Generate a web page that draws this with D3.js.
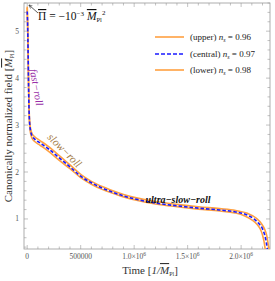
<!DOCTYPE html>
<html><head><meta charset="utf-8">
<script src="https://cdn.jsdelivr.net/npm/d3@7"></script>
<style>body{margin:0;background:#fff}svg{display:block}text{font-family:"Liberation Serif","Times New Roman",serif}</style>
</head><body>
<script>
const timeCentral = [0,4000,8000,12000,16000,20000,25000,32000,45000,70000,120000,200000,300000,400000,500000,600000,700000,800000,900000,1000000,1200000,1400000,1600000,1800000,1950000,2050000,2120000,2170000,2200000,2220000,2235000,2245000];
const fieldCentral = [5.42,5.13,4.6,3.96,3.43,3.15,2.98,2.87,2.77,2.70,2.62,2.49,2.30,2.11,1.91,1.77,1.66,1.57,1.49,1.43,1.34,1.28,1.23,1.19,1.15,1.09,1.0,0.89,0.79,0.66,0.51,0.36];
const timeUpper = [0,4000,8000,12000,16000,20000,25000,32000,45000,70000,120000,200000,300000,400000,500000,600000,700000,800000,900000,1000000,1200000,1400000,1600000,1800000,1950000,2060000,2140000,2190000,2220000,2240000,2252000,2260000];
const fieldUpper = [5.52,5.18,4.66,4.02,3.49,3.20,3.03,2.92,2.82,2.75,2.67,2.54,2.35,2.15,1.95,1.80,1.69,1.60,1.52,1.46,1.37,1.31,1.26,1.22,1.18,1.12,1.02,0.90,0.78,0.64,0.48,0.36];
const timeLower = [0,4000,8000,12000,16000,20000,25000,32000,45000,70000,120000,200000,300000,400000,500000,600000,700000,800000,900000,1000000,1200000,1400000,1600000,1800000,1940000,2030000,2100000,2150000,2180000,2200000,2215000,2225000];
const fieldLower = [5.50,5.08,4.55,3.90,3.38,3.10,2.93,2.82,2.72,2.65,2.57,2.44,2.25,2.07,1.88,1.74,1.63,1.55,1.47,1.41,1.32,1.26,1.21,1.17,1.13,1.07,0.98,0.88,0.78,0.66,0.51,0.36];
const legendLabels = ["(upper) ", "(central) ", "(lower) "];
const legendValues = ["0.96","0.97","0.98"];
const xTickValues = [0,500000,1000000,1500000,2000000];
const xTickLabels = ["0","500000","1.0×10","1.5×10","2.0×10"];
const yTickValues = [1,2,3,4,5];

const W=275,H=281;
const svg=d3.select("body").append("svg").attr("width",W).attr("height",H);
const x=d3.scaleLinear().domain([-30000,2270000]).range([24,270]);
const y=d3.scaleLinear().domain([0.36,5.6]).range([249,3]);
const frameCol="#999";

svg.append("rect").attr("x",24).attr("y",3).attr("width",246).attr("height",246).attr("fill","none").attr("stroke",frameCol).attr("stroke-width",0.8);
const xMinor=d3.range(0,2270001,100000);
xMinor.forEach(v=>{
  const major = v%500000===0;
  const len = major?4:2.5;
  svg.append("line").attr("x1",x(v)).attr("x2",x(v)).attr("y1",249).attr("y2",249-len).attr("stroke",frameCol).attr("stroke-width",0.6);
  svg.append("line").attr("x1",x(v)).attr("x2",x(v)).attr("y1",3).attr("y2",3+len).attr("stroke",frameCol).attr("stroke-width",0.6);
});
const yMinor=d3.range(0.4,5.61,0.2);
yMinor.forEach(v=>{
  const major=Math.abs(v-Math.round(v))<1e-6;
  const len=major?4:2.5;
  svg.append("line").attr("x1",24).attr("x2",24+len).attr("y1",y(v)).attr("y2",y(v)).attr("stroke",frameCol).attr("stroke-width",0.6);
  svg.append("line").attr("x1",270).attr("x2",270-len).attr("y1",y(v)).attr("y2",y(v)).attr("stroke",frameCol).attr("stroke-width",0.6);
});
xTickValues.forEach((v,i)=>{
  const t=svg.append("text").attr("x",x(v)).attr("y",259).attr("text-anchor","middle").attr("font-size",7.5).attr("fill","#555");
  t.append("tspan").text(xTickLabels[i]);
  if(i>=2) t.append("tspan").attr("dy",-3).attr("font-size",5.5).text("6");
});
yTickValues.forEach(v=>{
  svg.append("text").attr("x",19).attr("y",y(v)+2.5).attr("text-anchor","end").attr("font-size",7.5).attr("fill","#555").text(v);
});

const xl=svg.append("text").attr("x",150).attr("y",274).attr("text-anchor","middle").attr("font-size",11).attr("fill","#333");
xl.append("tspan").text("Time [");
xl.append("tspan").attr("font-style","italic").text("1/");
xl.append("tspan").attr("font-style","italic").attr("text-decoration","overline").text("M");
xl.append("tspan").attr("font-size",6).attr("dy",2).text("Pl");
xl.append("tspan").attr("dy",-2).text("]");
const yl=svg.append("text").attr("transform","translate(12,126) rotate(-90)").attr("text-anchor","middle").attr("font-size",11).attr("fill","#333");
yl.append("tspan").text("Canonically normalized field [");
yl.append("tspan").attr("font-style","italic").attr("text-decoration","overline").text("M");
yl.append("tspan").attr("font-size",6).attr("dy",2).text("Pl");
yl.append("tspan").attr("dy",-2).text("]");

const line=d3.line().x(d=>x(d[0])).y(d=>y(d[1])).curve(d3.curveMonotoneX);
const orange="#FFA040";
const g=svg.append("g");
g.append("path").datum(d3.zip(timeUpper,fieldUpper)).attr("d",line).attr("fill","none").attr("stroke",orange).attr("stroke-width",1.6);
g.append("path").datum(d3.zip(timeLower,fieldLower)).attr("d",line).attr("fill","none").attr("stroke",orange).attr("stroke-width",1.6);
g.append("path").datum(d3.zip(timeCentral,fieldCentral)).attr("d",line).attr("fill","none").attr("stroke","#1a1aff").attr("stroke-width",1.6).attr("stroke-dasharray","3.5,2");

const legY=[37,54,70];
const legStyles=[{c:orange,d:null},{c:"#1a1aff",d:"4,2"},{c:orange,d:null}];
legY.forEach((ly,i)=>{
  const l=svg.append("line").attr("x1",155).attr("x2",184).attr("y1",ly).attr("y2",ly).attr("stroke",legStyles[i].c).attr("stroke-width",1.6);
  if(legStyles[i].d) l.attr("stroke-dasharray",legStyles[i].d);
  const t=svg.append("text").attr("x",190).attr("y",ly+3).attr("font-size",9).attr("fill","#222");
  t.append("tspan").text(legendLabels[i]);
  t.append("tspan").attr("font-style","italic").text("n");
  t.append("tspan").attr("font-style","italic").attr("font-size",6).attr("dy",2).text("s");
  t.append("tspan").attr("dy",-2).text(" = "+legendValues[i]);
});

svg.append("defs").append("marker").attr("id","ah").attr("viewBox","0 0 10 10").attr("refX",9).attr("refY",5).attr("markerWidth",5).attr("markerHeight",5).attr("orient","auto")
  .append("path").attr("d","M0,1L10,5L0,9").attr("fill","none").attr("stroke","#333").attr("stroke-width",1.5);
svg.append("line").attr("x1",38).attr("y1",13).attr("x2",29).attr("y2",5).attr("stroke","#333").attr("stroke-width",0.8).attr("marker-end","url(#ah)");
const pt=svg.append("text").attr("x",38).attr("y",20).attr("font-size",11.5).attr("fill","#111");
pt.append("tspan").attr("text-decoration","overline").text("Π");
pt.append("tspan").text("  =  −10");
pt.append("tspan").attr("font-size",7).attr("dy",-4.5).text("−3");
pt.append("tspan").attr("dy",4.5).text(" ");
pt.append("tspan").attr("font-style","italic").attr("text-decoration","overline").text("M");
pt.append("tspan").attr("font-size",6.5).attr("dy",2).text("Pl");
pt.append("tspan").attr("font-size",7).attr("dy",-7).text("2");

svg.append("text").attr("transform","translate(33,88) rotate(80)").attr("text-anchor","middle").attr("font-size",10.5).attr("font-style","italic").attr("fill","#9a2fa8").text("fast−roll");
svg.append("text").attr("transform","translate(62,153) rotate(45)").attr("text-anchor","middle").attr("font-size",11).attr("font-style","italic").attr("fill","#a0763c").text("slow−roll");
svg.append("text").attr("x",178).attr("y",203).attr("text-anchor","middle").attr("font-size",10).attr("font-style","italic").attr("font-weight","bold").attr("fill","#111").text("ultra−slow−roll");
</script>
</body></html>
